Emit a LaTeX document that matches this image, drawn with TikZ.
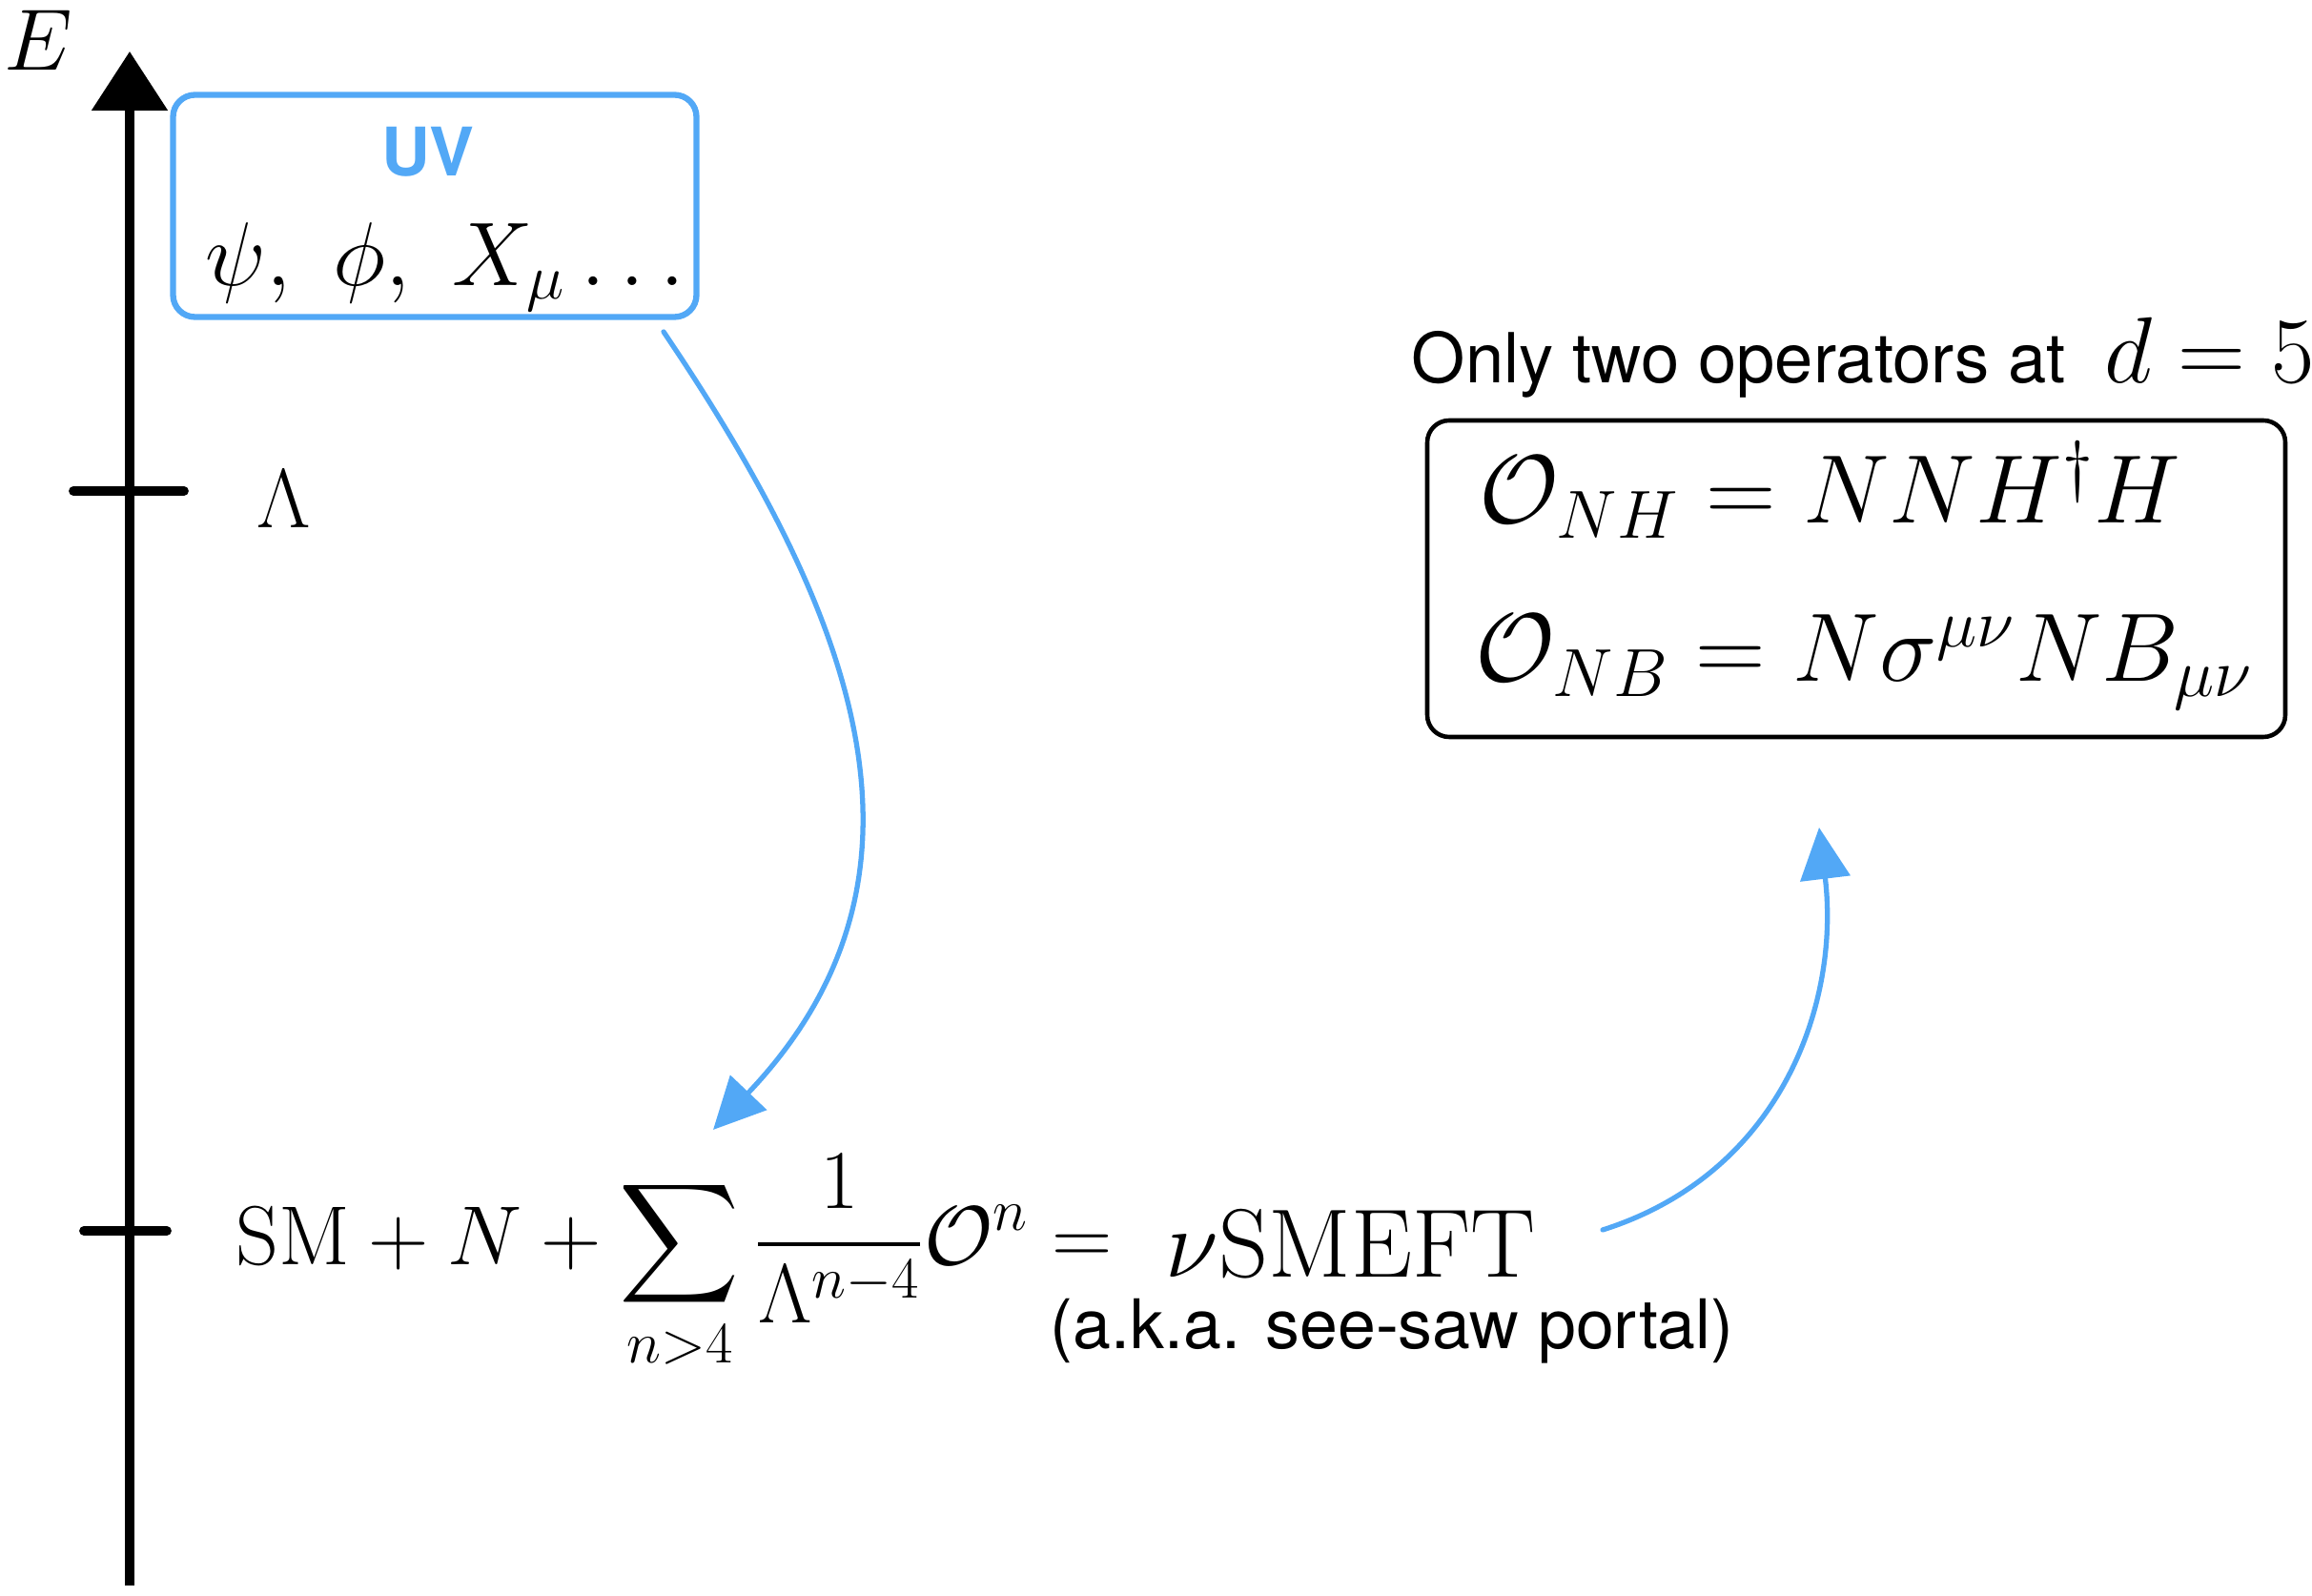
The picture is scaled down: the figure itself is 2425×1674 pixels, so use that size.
\RequirePackage{fix-cm}
\documentclass[tikz,border=0pt]{standalone}
\usepackage{amsmath}
\usepackage{fontspec}
\setsansfont{TeX Gyre Heros}
\usetikzlibrary{arrows.meta}
\usepackage{xcolor}
\definecolor{uvblue}{RGB}{82,168,246}
\tikzset{
  flow/.style={uvblue,line width=1.5pt,line cap=round,-{Triangle[length=5.4mm,width=5.2mm]}},
  tickmark/.style={line width=2.8pt,line cap=round},
  bigmath/.style={font=\fontsize{25}{30}\selectfont},
}

\begin{document}
\begin{tikzpicture}[x=0.1mm,y=-0.1mm]
\useasboundingbox (0,0) rectangle (2425,1674);
% energy axis with two scales
\draw[line width=2.6pt,-{Triangle[length=6.2mm,width=7.8mm]}] (136,1663) -- (136,54);
\node[font=\fontsize{26}{30}\selectfont] (E) at (40,42) {$E$};
\draw[tickmark] (77,515) -- (193,515);
\draw[tickmark] (88,1291) -- (175,1291);
\node[bigmath] (cutoff) at (298,523) {$\Lambda$};
% UV box
\node[draw=uvblue,line width=1.8pt,rounded corners=2.3mm,minimum width=54.9mm,minimum height=23.3mm] (uvbox) at (456,216) {};
\node[font=\sffamily\bfseries\fontsize{20}{24}\selectfont,text=uvblue] (uvtitle) at (449,159) {UV};
\node[font=\fontsize{27}{32}\selectfont] (uvfields) at (467,280) {$\psi,\ \phi,\ X_\mu\ldots$};
% low energy expansion
\node[bigmath,anchor=base west,inner sep=0pt] (lagr) at (247,1327)
  {$\mathrm{SM}+N+\displaystyle\sum_{n>4}\frac{1}{\Lambda^{n-4}}\mathcal{O}^n=$};
\node[font=\fontsize{29}{34}\selectfont,anchor=base west,inner sep=0pt] (smeft) at (1222,1340) {$\nu\mathrm{SMEFT}$};
\node[font=\sffamily\fontsize{20.4}{24}\selectfont,anchor=base west,inner sep=0pt] (aka) at (1101,1415) {(a.k.a. see-saw portal)};
% operators at d=5
\node[anchor=base west,inner sep=0pt] (onlytwo) at (1480,402)
  {\sffamily\fontsize{20.6}{24}\selectfont Only two operators at\ \ \fontsize{28}{32}\selectfont$d=5$};
\node[draw,line width=1.3pt,rounded corners=2.3mm,minimum width=90mm,minimum height=33.2mm] (opbox) at (1947,607) {};
\node[font=\fontsize{29}{34}\selectfont,anchor=base west,inner sep=0pt] (onh) at (1551,549) {$\mathcal{O}_{NH}=NNH^\dagger H$};
\node[font=\fontsize{29}{34}\selectfont,anchor=base west,inner sep=0pt] (onb) at (1547,715) {$\mathcal{O}_{NB}=N\sigma^{\mu\nu}NB_{\mu\nu}$};
% arrows
\coordinate (uvout) at (696,348);
\coordinate (lagrin) at (748,1185);
\coordinate (lagrout) at (1681,1290);
\coordinate (opsin) at (1908,868);
\draw[flow] (uvout) .. controls (900,650) and (1000,920) .. (lagrin);
\draw[flow] (lagrout) .. controls (1870,1230) and (1930,1050) .. (opsin);
\end{tikzpicture}
\end{document}
